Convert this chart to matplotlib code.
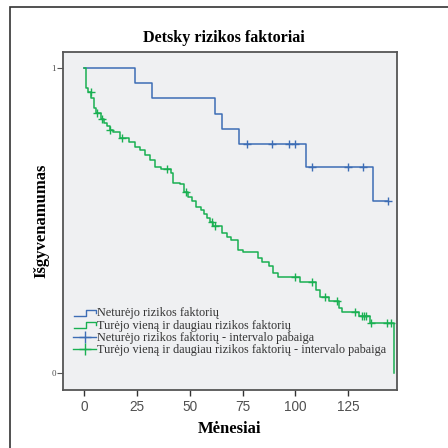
#!/usr/bin/env python3
"""Kaplan-Meier style survival chart: Detsky rizikos faktoriai."""
import matplotlib
matplotlib.use("Agg")
import matplotlib.pyplot as plt
import numpy as np
from matplotlib.lines import Line2D
from matplotlib.patches import Rectangle

TITLE = "Detsky rizikos faktoriai"
XLABEL = "Mėnesiai"
YLABEL = "Išgyvenamumas"
LABELS = [
    "Neturėjo rizikos faktorių",
    "Turėjo vieną ir daugiau rizikos faktorių",
    "Neturėjo rizikos faktorių - intervalo pabaiga",
    "Turėjo vieną ir daugiau rizikos faktorių - intervalo pabaiga",
]
XTICKS = [0, 25, 50, 75, 100, 125]
YTICKS = [0, 1]

# group without risk factors: event times and survival after each step
blue_t = [0, 24.0, 32.0, 62.0, 65.0, 73.2, 104.8, 136.8, 144.0]
blue_s = [1.0, 0.95, 0.90, 0.85, 0.80, 0.75, 0.675, 0.5625, 0.5625]
blue_cens = [76.9, 89.0, 97.0, 99.8, 107.7, 125.0, 131.8, 144.0]

# group with one or more risk factors
green_t = [0, 0.7, 1.9, 3.2, 4.5, 5.5, 7.9, 9.3, 10.7, 12.2, 13.6, 16.9, 21.2,
           24.0, 26.4, 28.7, 31.1, 33.5, 36.3, 41.1, 42.0, 45.3, 47.2, 49.1,
           51.0, 52.9, 55.3, 56.7, 58.1, 59.5, 61.0, 65.2, 67.6, 69.5, 72.8,
           75.1, 82.2, 84.1, 87.5, 89.3, 91.7, 102.1, 109.7, 111.6, 115.9,
           120.5, 122.0, 130.1, 135.3, 146.6]
green_s = [1.0, 0.934, 0.922, 0.902, 0.868, 0.851, 0.832, 0.819, 0.808, 0.797,
           0.791, 0.770, 0.758, 0.742, 0.731, 0.715, 0.697, 0.676, 0.669, 0.655,
           0.624, 0.620, 0.594, 0.578, 0.562, 0.545, 0.534, 0.521, 0.507, 0.496,
           0.482, 0.458, 0.447, 0.436, 0.403, 0.398, 0.378, 0.362, 0.351, 0.327,
           0.314, 0.297, 0.272, 0.250, 0.236, 0.213, 0.200, 0.185, 0.163, 0.0]
green_cens = [3.0, 6.2, 8.2, 12.2, 17.7, 39.0, 48.1, 60.3, 61.9, 99.8, 107.8,
              114.2, 119.8, 128.1, 131.5, 132.5, 133.4, 135.8, 143.4, 145.2]

BLUE = "#3d6db5"
GREEN = "#19b052"
BG = "#eff0f2"
SERIF = "Liberation Serif"
SANS = "Liberation Sans"


def surv_at(times, surv, t):
    idx = np.searchsorted(times, t, side="right") - 1
    return np.asarray(surv)[idx]


class StepIcon:
    def __init__(self, color):
        self.color = color


class StepHandler:
    def legend_artist(self, legend, orig_handle, fontsize, handlebox):
        x0, y0 = handlebox.xdescent, handlebox.ydescent
        w, h = handlebox.width, handlebox.height
        xs = [x0 + 0.05 * w, x0 + 0.55 * w, x0 + 0.55 * w, x0 + w, x0 + w]
        ys = [y0 + 0.1 * h, y0 + 0.1 * h, y0 + 0.8 * h, y0 + 0.8 * h, y0 + 0.45 * h]
        line = Line2D(xs, ys, color=orig_handle.color, lw=1.0,
                      transform=handlebox.get_transform())
        handlebox.add_artist(line)
        return line


def main() -> None:
    fig = plt.figure(figsize=(4.48, 4.48), dpi=100)
    ax = fig.add_axes([63 / 448, 58 / 448, 334 / 448, 338 / 448])
    ax.set_facecolor(BG)

    # outer frame (open at right and bottom)
    fig.patches.append(Rectangle((10 / 448, -0.2), 1.2, (441 / 448) + 0.2,
                                 transform=fig.transFigure, fill=False,
                                 lw=1.2, edgecolor="#333333"))

    ax.step(blue_t, blue_s, where="post", color=BLUE, lw=1.1)
    ax.step(green_t, green_s, where="post", color=GREEN, lw=1.1)
    ax.plot(blue_cens, surv_at(blue_t, blue_s, blue_cens), ls="none",
            marker="+", ms=6, mew=1.0, color=BLUE)
    ax.plot(green_cens, surv_at(green_t, green_s, green_cens), ls="none",
            marker="+", ms=6, mew=1.0, color=GREEN)

    ax.set_xlim(-10.1, 148.1)
    ax.set_ylim(-0.056, 1.052)
    ax.set_xticks(XTICKS)
    ax.set_xticklabels([str(v) for v in XTICKS], fontfamily=SANS, fontsize=9.8,
                       color="#505050")
    ax.set_yticks(YTICKS)
    ax.set_yticklabels([str(v) for v in YTICKS], fontfamily=SERIF, fontsize=6.5,
                       color="#505050")
    ax.tick_params(axis="x", length=4, width=1, color="#333333", pad=3)
    ax.tick_params(axis="y", length=4, width=0.8, color="#555555", pad=1)
    for sp in ax.spines.values():
        sp.set_color("#555555")
        sp.set_linewidth(1.3)

    ax.set_xlabel(XLABEL, fontfamily=SERIF, fontsize=12, fontweight="bold",
                  labelpad=5)
    ax.set_ylabel(YLABEL, fontfamily=SERIF, fontsize=12, fontweight="bold",
                  labelpad=1.5)
    fig.text(0.5, 410 / 448, TITLE, ha="center", va="center",
             fontfamily=SERIF, fontsize=11.6, fontweight="bold")

    handles = [StepIcon(BLUE), StepIcon(GREEN),
               Line2D([0], [0], color=BLUE, lw=1.0, marker="+", ms=9, mew=1.0),
               Line2D([0], [0], color=GREEN, lw=1.0, marker="+", ms=9, mew=1.0)]
    leg = ax.legend(handles, LABELS, loc="lower left",
                    bbox_to_anchor=(0.03, 0.1), frameon=False,
                    handler_map={StepIcon: StepHandler()},
                    prop={"family": SERIF, "size": 8.8}, handlelength=1.9,
                    handletextpad=0.1, labelspacing=0.02, borderpad=0,
                    borderaxespad=0)
    for txt in leg.get_texts():
        txt.set_color("#333333")

    fig.savefig("out.png", dpi=100)
    plt.close(fig)


if __name__ == "__main__":
    main()
